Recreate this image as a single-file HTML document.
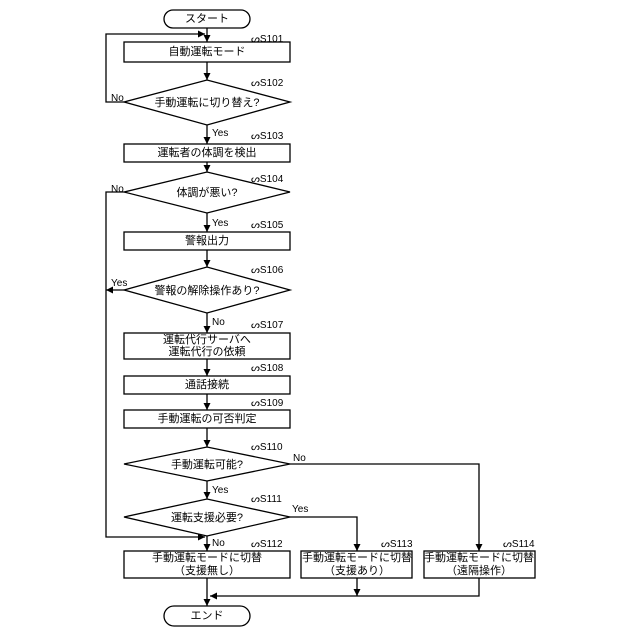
<!DOCTYPE html>
<html><head><meta charset="utf-8"><style>
html,body{margin:0;padding:0;background:#fff}
svg{display:block}
text{font-family:"Liberation Sans","Noto Sans CJK JP",sans-serif;fill:#000}
.t{font-size:11px;text-anchor:middle;dominant-baseline:central}
.s{font-size:10px}
.l{font-size:10px}
</style></head><body>
<svg width="640" height="640" viewBox="0 0 640 640" xmlns="http://www.w3.org/2000/svg">
<defs><marker id="a" viewBox="0 0 10 10" refX="10" refY="5" markerWidth="7" markerHeight="7" orient="auto-start-reverse" markerUnits="userSpaceOnUse"><path d="M0,0L10,5L0,10z" fill="#000"/></marker></defs>
<g fill="none" stroke="#000" stroke-width="1.3">
<rect x="164" y="10" width="86" height="18" rx="9"/>
<rect x="124" y="42" width="166" height="20"/>
<polygon points="124,102 207,80 290,102 207,125"/>
<rect x="124" y="144" width="166" height="18"/>
<polygon points="124,192 207,172 290,192 207,213"/>
<rect x="124" y="232" width="166" height="18"/>
<polygon points="124,290 207,267 290,290 207,313"/>
<rect x="124" y="333" width="166" height="26"/>
<rect x="124" y="376" width="166" height="18"/>
<rect x="124" y="410" width="166" height="18"/>
<polygon points="124,464 207,447 290,464 207,481"/>
<polygon points="124,517 207,499 290,517 207,536"/>
<rect x="124" y="551" width="166" height="27"/>
<rect x="301" y="551" width="111" height="27"/>
<rect x="424" y="551" width="111" height="27"/>
<rect x="164" y="606" width="86" height="20" rx="10"/>
</g>
<g fill="none" stroke="#000" stroke-width="1.3" marker-end="url(#a)">
<path d="M207,28V42"/>
<path d="M124,102H106V34H205"/>
<path d="M207,62V80"/>
<path d="M207,125V144"/>
<path d="M207,162V172"/>
<path d="M207,213V232"/>
<path d="M207,250V267"/>
<path d="M124,290H106"/>
<path d="M207,313V333"/>
<path d="M207,359V376"/>
<path d="M207,394V410"/>
<path d="M207,428V447"/>
<path d="M207,481V499"/>
<path d="M124,192H106V537H205"/>
<path d="M207,536V551"/>
<path d="M290,517H357V551"/>
<path d="M290,464H479V551"/>
<path d="M357,578V596"/>
<path d="M479,578V596H210"/>
<path d="M207,578V606"/>
</g>
<g class="t">
<text x="207" y="19">スタート</text>
<text x="207" y="52">自動運転モード</text>
<text x="207" y="103">手動運転に切り替え?</text>
<text x="207" y="153">運転者の体調を検出</text>
<text x="207" y="193">体調が悪い?</text>
<text x="207" y="241">警報出力</text>
<text x="207" y="291">警報の解除操作あり?</text>
<text x="207" y="340">運転代行サーバへ</text>
<text x="207" y="352">運転代行の依頼</text>
<text x="207" y="385">通話接続</text>
<text x="207" y="419">手動運転の可否判定</text>
<text x="207" y="465">手動運転可能?</text>
<text x="207" y="518">運転支援必要?</text>
<text x="207" y="558">手動運転モードに切替</text>
<text x="207" y="571">（支援無し）</text>
<text x="357" y="558">手動運転モードに切替</text>
<text x="357" y="571">（支援あり）</text>
<text x="479" y="558">手動運転モードに切替</text>
<text x="479" y="571">（遠隔操作）</text>
<text x="207" y="616">エンド</text>
</g>
<g class="s">
<text x="251" y="42">ᔕS101</text>
<text x="251" y="86">ᔕS102</text>
<text x="251" y="139">ᔕS103</text>
<text x="251" y="182">ᔕS104</text>
<text x="251" y="228">ᔕS105</text>
<text x="251" y="273">ᔕS106</text>
<text x="251" y="328">ᔕS107</text>
<text x="251" y="371">ᔕS108</text>
<text x="251" y="406">ᔕS109</text>
<text x="251" y="450">ᔕS110</text>
<text x="251" y="502">ᔕS111</text>
<text x="251" y="547">ᔕS112</text>
<text x="381" y="547">ᔕS113</text>
<text x="503" y="547">ᔕS114</text>
</g>
<g class="l">
<text x="111" y="101">No</text>
<text x="212" y="136">Yes</text>
<text x="111" y="192">No</text>
<text x="212" y="226">Yes</text>
<text x="111" y="286">Yes</text>
<text x="212" y="325">No</text>
<text x="293" y="461">No</text>
<text x="212" y="493">Yes</text>
<text x="292" y="512">Yes</text>
<text x="212" y="546">No</text>
</g>
</svg>
</body></html>
